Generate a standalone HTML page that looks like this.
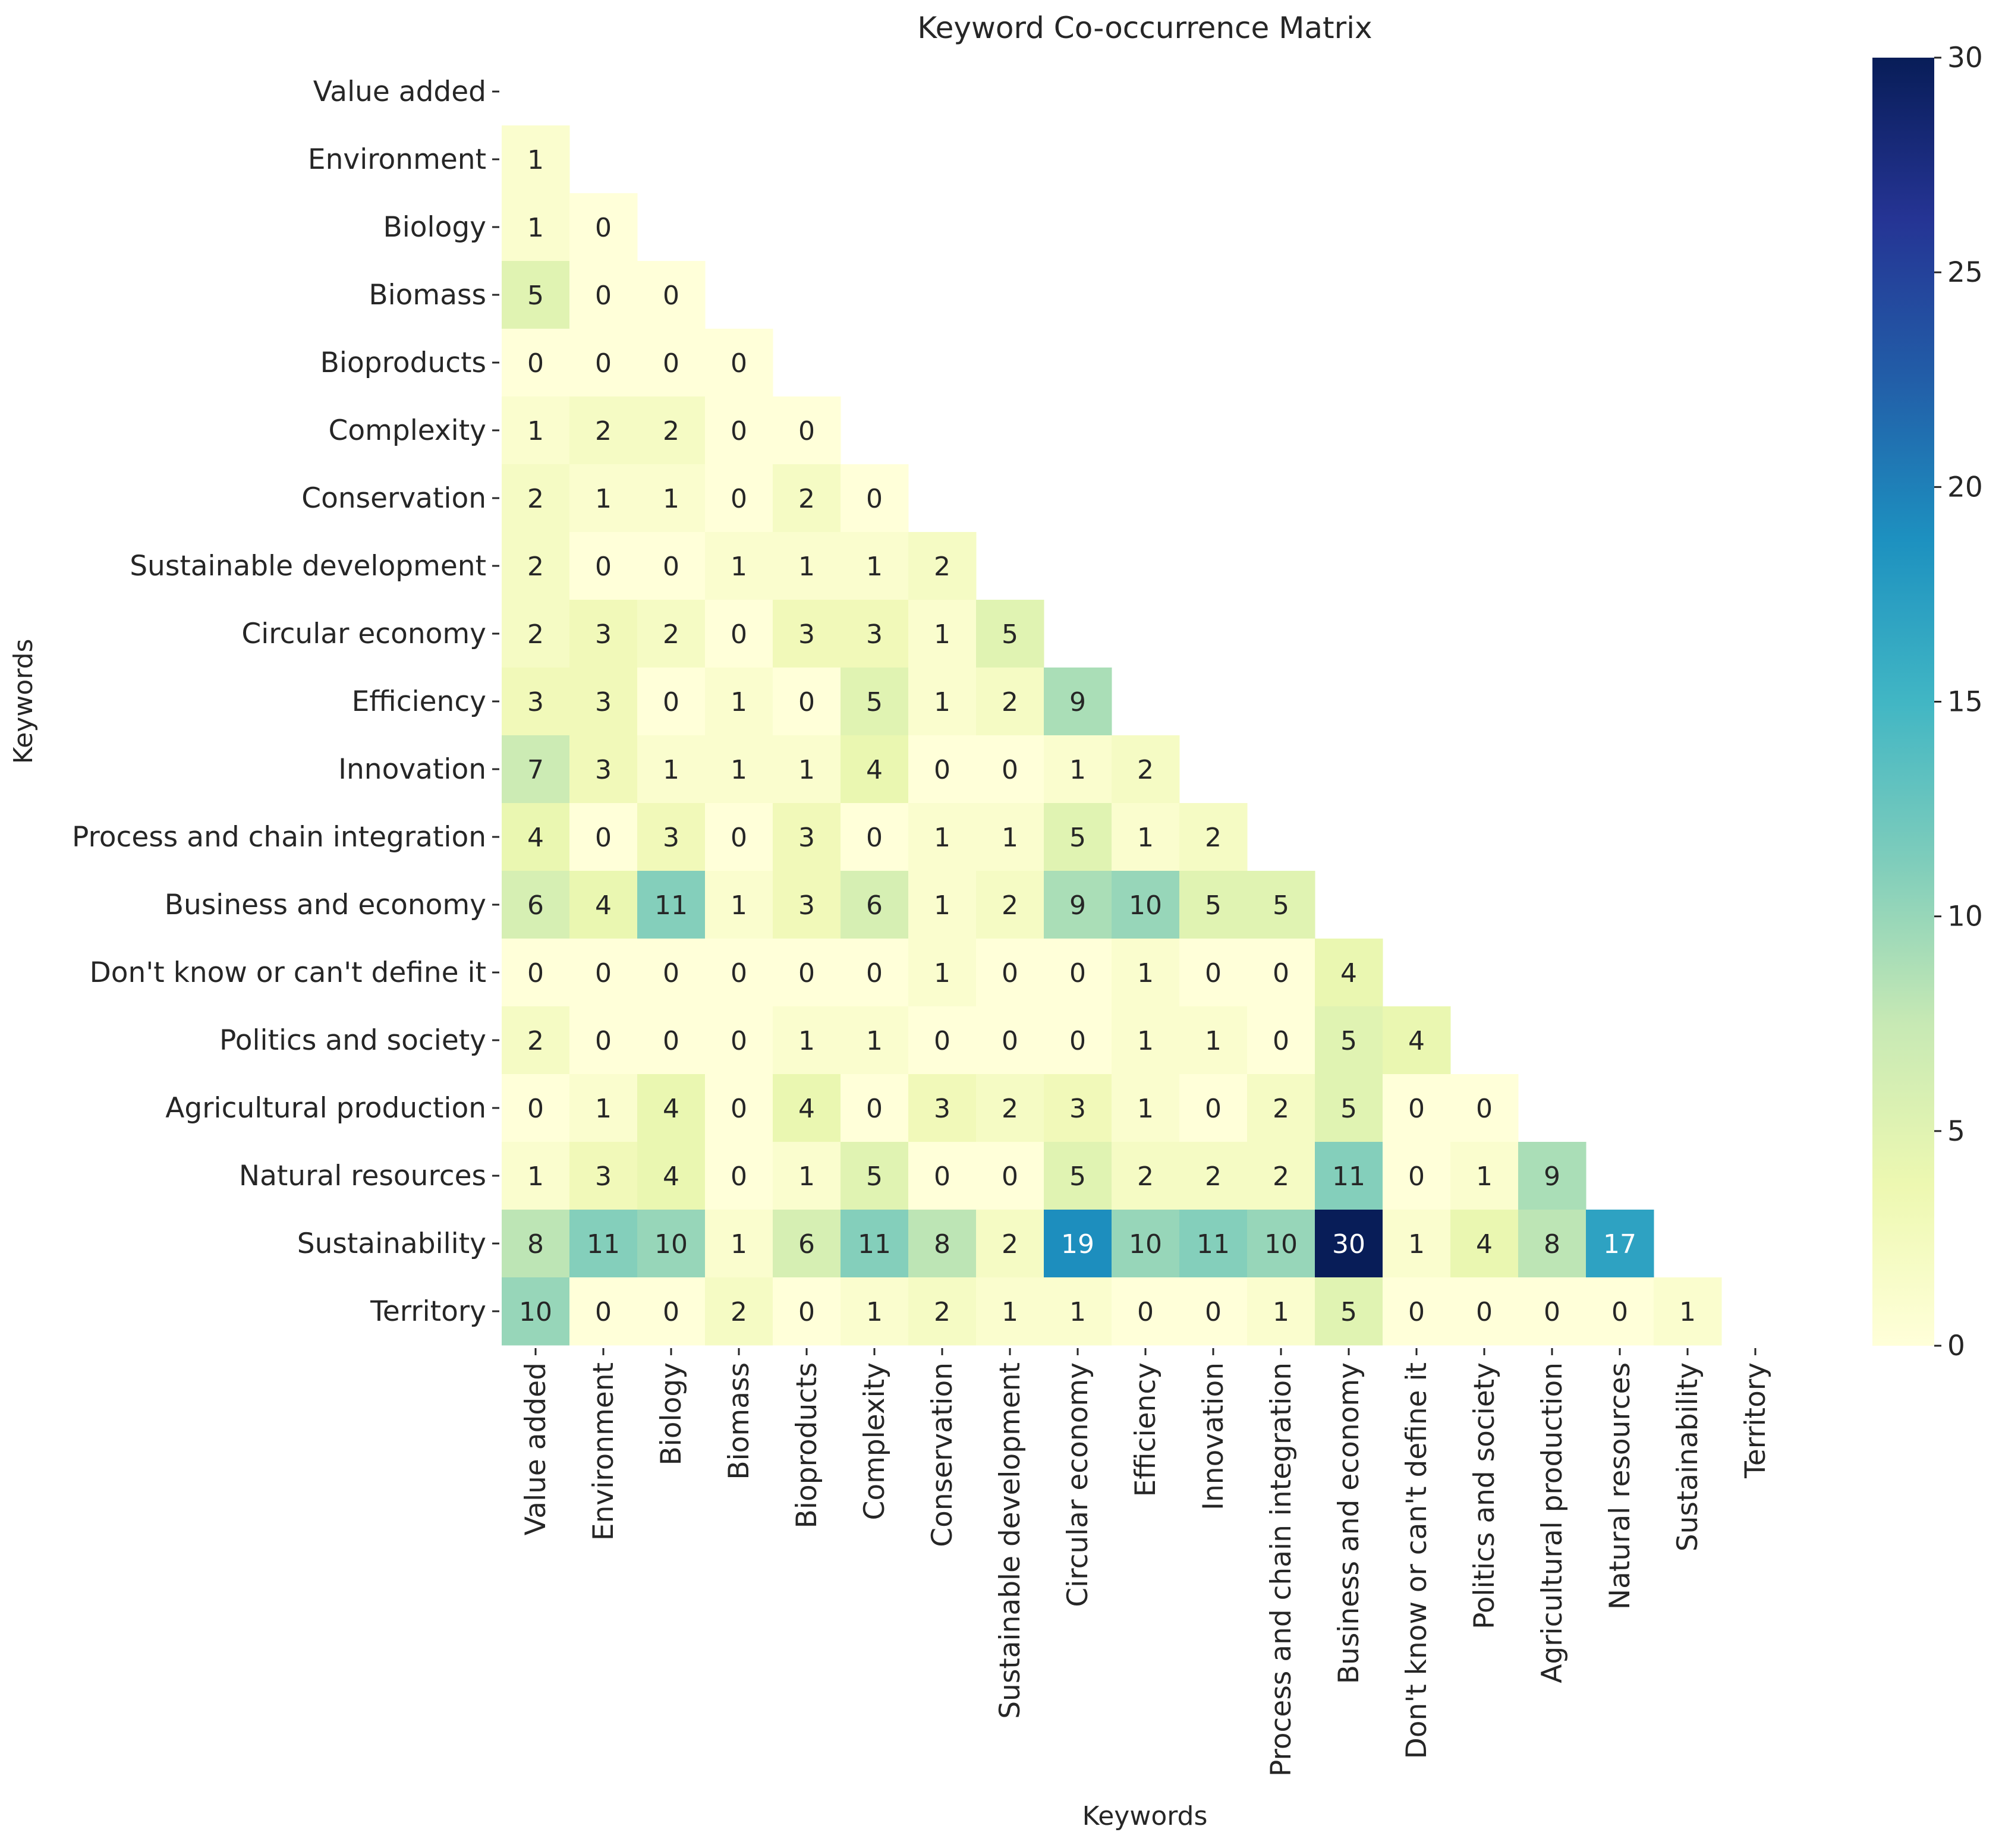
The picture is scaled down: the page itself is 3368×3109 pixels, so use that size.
<!DOCTYPE html>
<html><head><meta charset="utf-8">
<style>
html,body{margin:0;padding:0;background:#fff;}
svg{display:block;font-family:"DejaVu Sans","Liberation Sans",sans-serif;}
</style></head>
<body>
<svg id="chart" width="3368" height="3109" viewBox="0 0 3368 3109" xmlns="http://www.w3.org/2000/svg">
<rect width="3368" height="3109" fill="#fff"/>
<text x="1926" y="64" font-size="50" text-anchor="middle" fill="#262626">Keyword Co-occurrence Matrix</text>
<text transform="translate(54,1180) rotate(-90)" font-size="44" text-anchor="middle" fill="#262626">Keywords</text>
<text x="1926" y="3070" font-size="44" text-anchor="middle" fill="#262626">Keywords</text>
<defs>
<linearGradient id="cbgrad" x1="0" y1="1" x2="0" y2="0">
<stop offset="0" stop-color="#ffffd9"/><stop offset="0.125" stop-color="#edf8b1"/><stop offset="0.25" stop-color="#c7e9b4"/><stop offset="0.375" stop-color="#7fcdbb"/><stop offset="0.5" stop-color="#41b6c4"/><stop offset="0.625" stop-color="#1d91c0"/><stop offset="0.75" stop-color="#225ea8"/><stop offset="0.875" stop-color="#253494"/><stop offset="1" stop-color="#081d58"/>
</linearGradient>
</defs>
<g id="cells"></g>
<g id="ylabels"></g>
<g id="xlabels"></g>
<rect x="3150" y="97" width="104" height="2167" fill="url(#cbgrad)"/>
<g id="cbticks"></g>
</svg>
<script>
const keywords = ["Value added","Environment","Biology","Biomass","Bioproducts","Complexity","Conservation","Sustainable development","Circular economy","Efficiency","Innovation","Process and chain integration","Business and economy","Don't know or can't define it","Politics and society","Agricultural production","Natural resources","Sustainability","Territory"];
const row1 = [1];
const row2 = [1,0];
const row3 = [5,0,0];
const row4 = [0,0,0,0];
const row5 = [1,2,2,0,0];
const row6 = [2,1,1,0,2,0];
const row7 = [2,0,0,1,1,1,2];
const row8 = [2,3,2,0,3,3,1,5];
const row9 = [3,3,0,1,0,5,1,2,9];
const row10 = [7,3,1,1,1,4,0,0,1,2];
const row11 = [4,0,3,0,3,0,1,1,5,1,2];
const row12 = [6,4,11,1,3,6,1,2,9,10,5,5];
const row13 = [0,0,0,0,0,0,1,0,0,1,0,0,4];
const row14 = [2,0,0,0,1,1,0,0,0,1,1,0,5,4];
const row15 = [0,1,4,0,4,0,3,2,3,1,0,2,5,0,0];
const row16 = [1,3,4,0,1,5,0,0,5,2,2,2,11,0,1,9];
const row17 = [8,11,10,1,6,11,8,2,19,10,11,10,30,1,4,8,17];
const row18 = [10,0,0,2,0,1,2,1,1,0,0,1,5,0,0,0,0,1];
const matrixRows = [[],row1,row2,row3,row4,row5,row6,row7,row8,row9,row10,row11,row12,row13,row14,row15,row16,row17,row18];
const colorTicks = [0,5,10,15,20,25,30];
const vmin = 0, vmax = 30;

const NS = "http://www.w3.org/2000/svg";
const gridLeft = 844, gridTop = 97, cw = 114, ch = 114;
const xPos = i => gridLeft + i*cw;
const yPos = i => gridTop + i*ch;
const cbTop = 97, cbBot = 2264;
const cbY = v => cbBot - (v - vmin)/(vmax - vmin)*(cbBot - cbTop);

const stops = ["#ffffd9","#edf8b1","#c7e9b4","#7fcdbb","#41b6c4","#1d91c0","#225ea8","#253494","#081d58"].map(h=>[parseInt(h.slice(1,3),16),parseInt(h.slice(3,5),16),parseInt(h.slice(5,7),16)]);
function cmap(v){
  let t = Math.max(0,Math.min(1,(v-vmin)/(vmax-vmin)))*(stops.length-1);
  let i = Math.min(stops.length-2, Math.floor(t)), f = t-i;
  return stops[i].map((c,k)=>Math.round(c+(stops[i+1][k]-c)*f));
}
function lum(rgb){
  const l = rgb.map(c=>{c/=255;return c<=0.03928?c/12.92:Math.pow((c+0.055)/1.055,2.4);});
  return 0.2126*l[0]+0.7152*l[1]+0.0722*l[2];
}
function mk(tag, attrs, parent, txt){
  const e = document.createElementNS(NS, tag);
  for (const k in attrs) e.setAttribute(k, attrs[k]);
  if (txt !== undefined) e.textContent = txt;
  parent.appendChild(e);
  return e;
}
const cellsG = document.getElementById('cells');
matrixRows.forEach((row, r) => {
  row.forEach((v, c) => {
    const rgb = cmap(v);
    const rect = mk('rect', {x:xPos(c), y:yPos(r), width:cw+0.5, height:ch+0.5, fill:`rgb(${rgb.join(',')})`}, cellsG);
    
    
    const t = mk('text', {x:xPos(c)+cw/2, y:yPos(r)+ch/2+16, 'font-size':44, 'text-anchor':'middle', fill: lum(rgb) < 0.408 ? '#ffffff' : '#262626'}, cellsG, String(v));
    
    
  });
});
const yl = document.getElementById('ylabels');
keywords.forEach((k, i) => {
  const yc = yPos(i)+ch/2;
  const tk = mk('line', {x1:gridLeft-16, x2:gridLeft-4, y1:yc, y2:yc, stroke:'#262626', 'stroke-width':3}, yl);
  
  
  const t = mk('text', {x:gridLeft-26, y:yc+16, 'font-size':47, 'text-anchor':'end', fill:'#262626'}, yl, k);
  
  
});
const xl = document.getElementById('xlabels');
keywords.forEach((k, i) => {
  const xc = xPos(i)+cw/2;
  const tk = mk('line', {x1:xc, x2:xc, y1:cbBot+4, y2:cbBot+16, stroke:'#262626', 'stroke-width':3}, xl);
  
  
  const t = mk('text', {transform:`translate(${xc+16},${cbBot+28}) rotate(-90)`, 'font-size':47, 'text-anchor':'end', fill:'#262626'}, xl, k);
  
  
});
const cb = document.getElementById('cbticks');
colorTicks.forEach(v => {
  const y = cbY(v);
  const tk = mk('line', {x1:3254, x2:3266, y1:y, y2:y, stroke:'#262626', 'stroke-width':3}, cb);
  
  
  const t = mk('text', {x:3276, y:y+16, 'font-size':47, fill:'#262626'}, cb, String(v));
  
  
});
</script>
</body></html>
